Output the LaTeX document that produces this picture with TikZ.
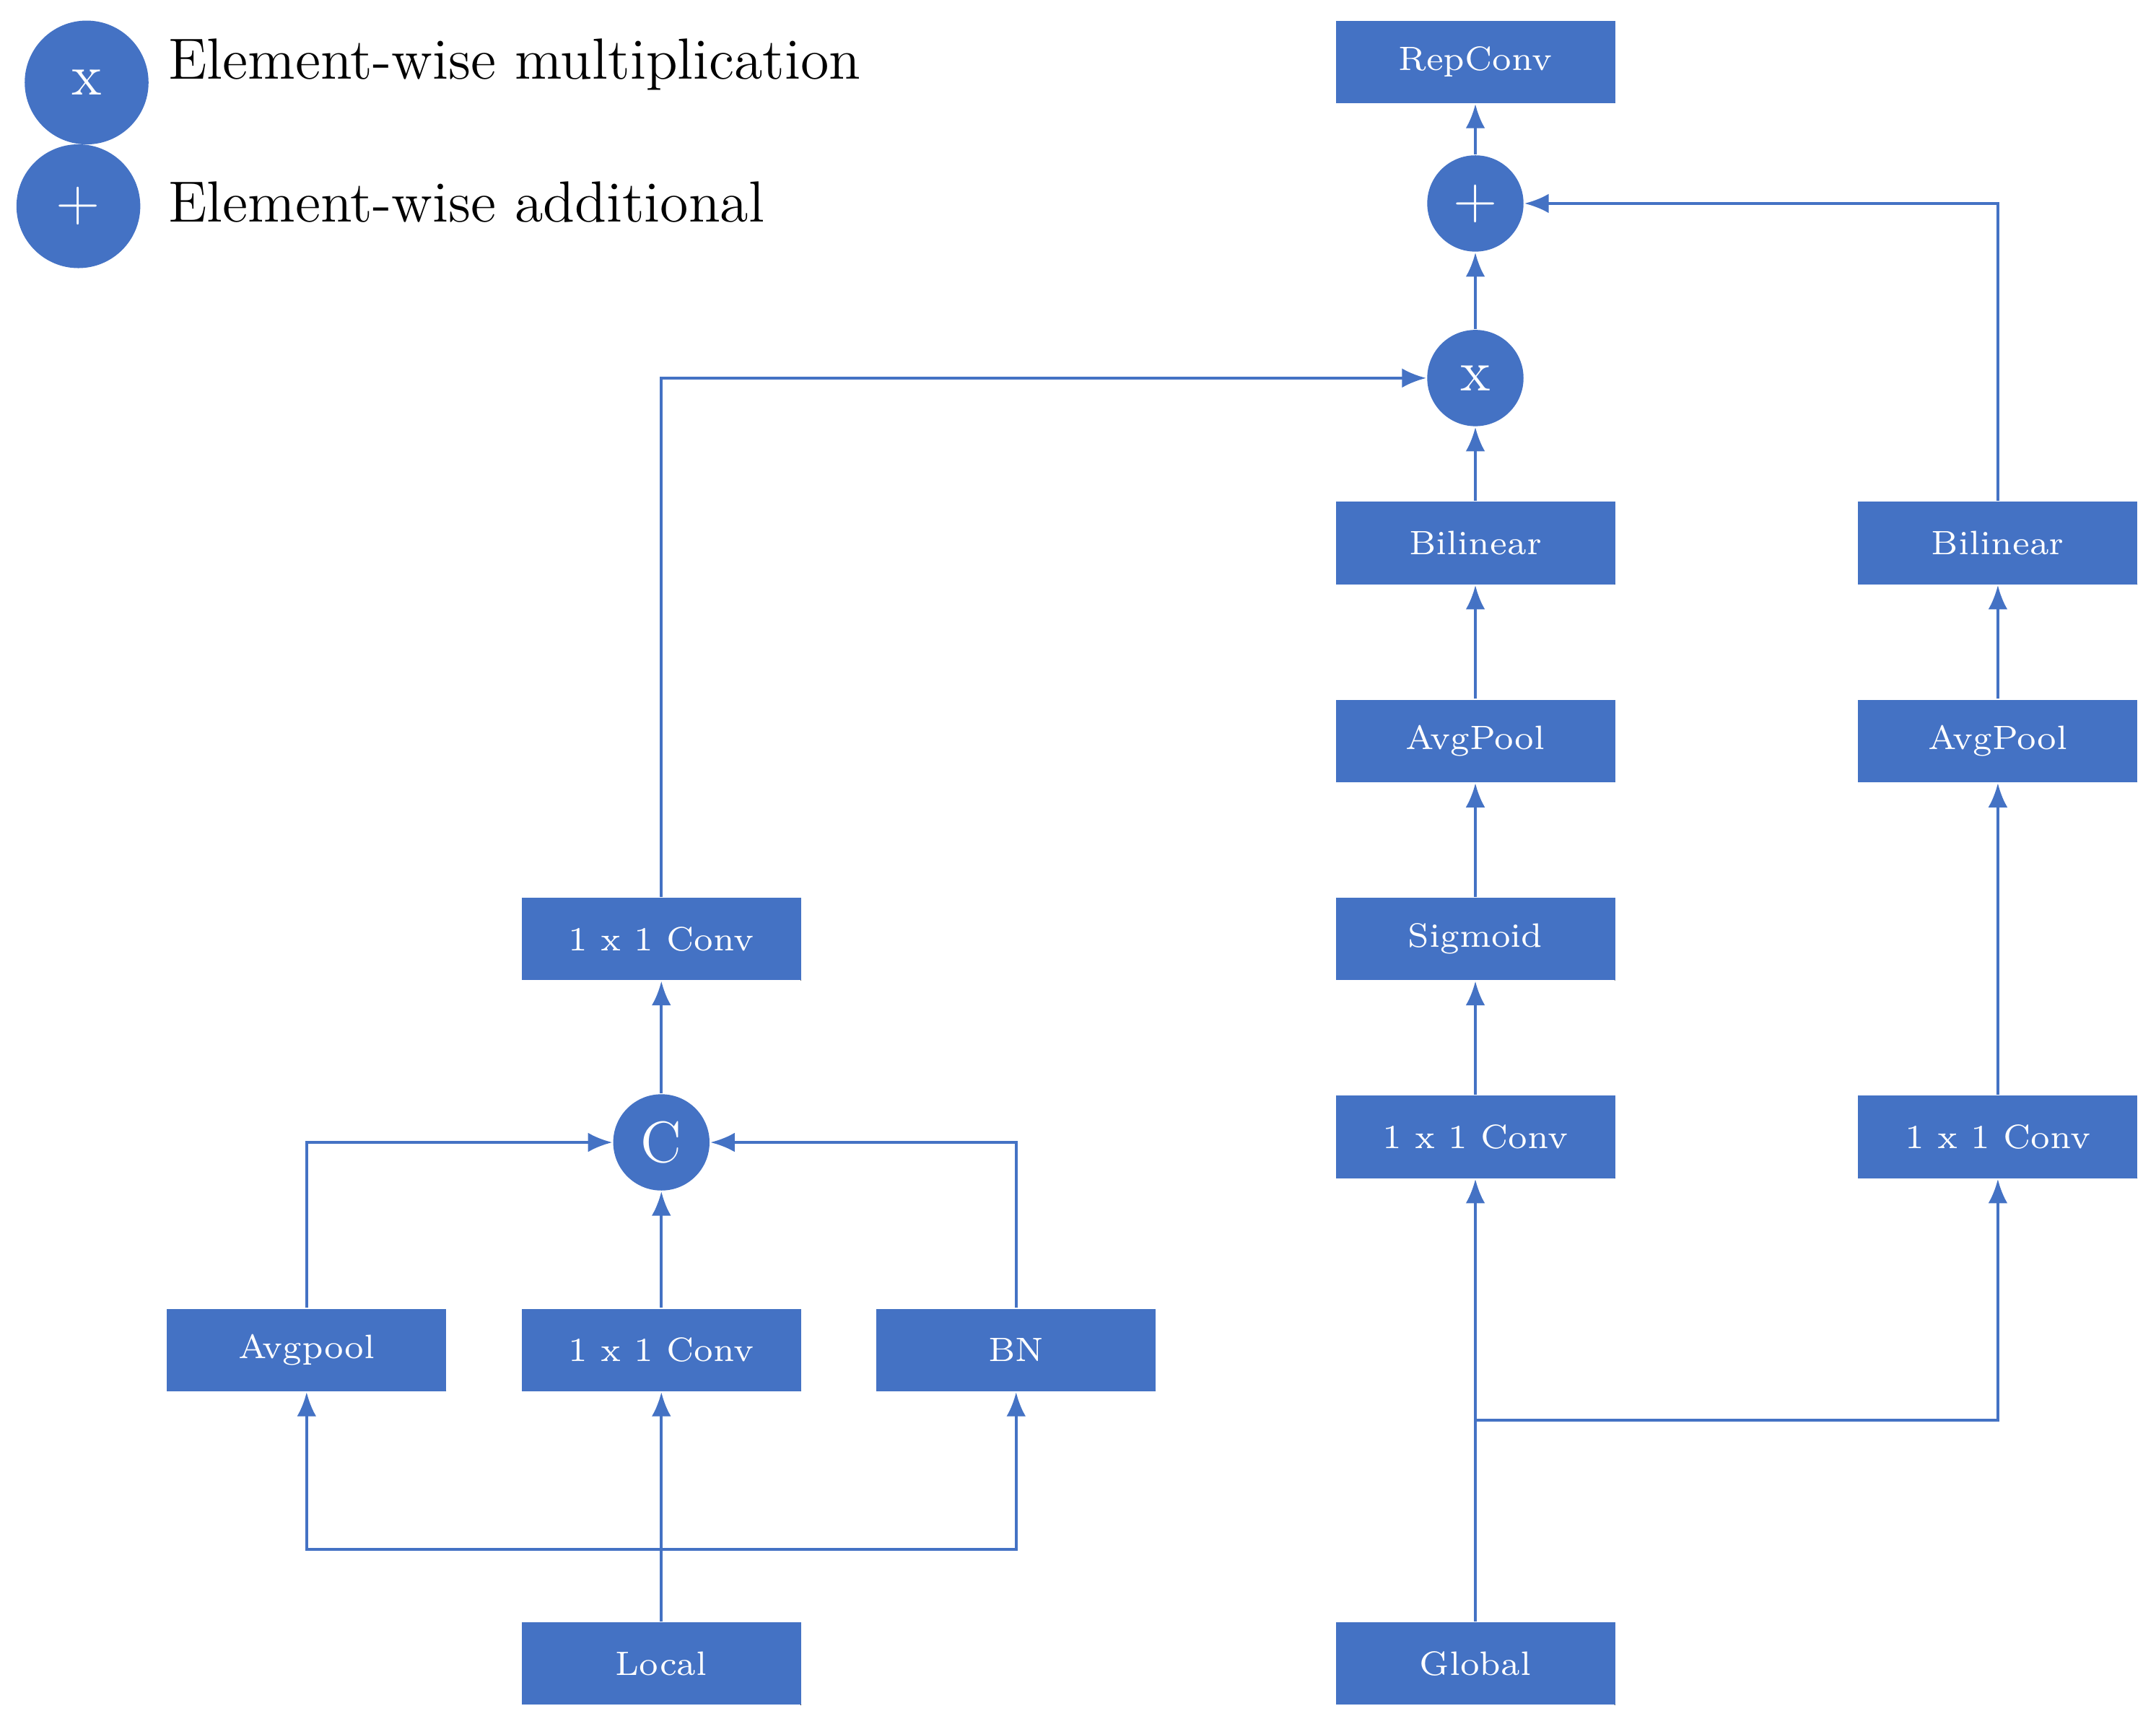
\documentclass[tikz,border=0pt]{standalone}
\usetikzlibrary{arrows.meta}
\definecolor{blk}{HTML}{4472C4}
\tikzset{
  box/.style={rectangle,fill=blk,minimum width=2.03cm,minimum height=0.6cm,inner sep=0pt,
    text=white,font=\fontsize{7}{8}\selectfont,
    path picture={\fill[black] (path picture bounding box.south east) -- ++(-0.42,0) -- ++(0.42,0.42) -- cycle;}},
  op/.style={circle,fill=blk,minimum size=0.7cm,inner sep=0pt,text=white,font=\large},
  link/.style={draw=blk,line width=0.6pt,-{Latex[length=5pt,width=4pt]}}
}
\begin{document}
\begin{tikzpicture}[x=0.01cm,y=-0.01cm]
      \useasboundingbox (0,0) rectangle (1568,1254);

      % legend
      \node[op,minimum size=0.9cm] (lm) at (63,60) {x};
      \node[op,minimum size=0.9cm] (la) at (57,150) {+};
      \node[anchor=west,font=\fontsize{12}{14}\selectfont] (lmt) at (110,47) {Element-wise multiplication};
      \node[anchor=west,font=\fontsize{12}{14}\selectfont] (lat) at (110,147) {Element-wise additional};

      \begin{scope}[every node/.style={box}]
        \node (rep)  at (1073,45)   {RepConv};
        \node (bil1) at (1073,395)  {Bilinear};
        \node (bil2) at (1453,395)  {Bilinear};
        \node (avg1) at (1073,539)  {AvgPool};
        \node (avg2) at (1453,539)  {AvgPool};
        \node (sig)  at (1073,683)  {Sigmoid};
        \node (cg1)  at (1073,827)  {1 x 1 Conv};
        \node (cg2)  at (1453,827)  {1 x 1 Conv};
        \node (glob) at (1073,1210) {Global};
        \node (loc)  at (481,1210)  {Local};
        \node (pool) at (223,982)   {Avgpool};
        \node (cl)   at (481,982)   {1 x 1 Conv};
        \node (bn)   at (739,982)   {BN};
        \node (ct)   at (481,683)   {1 x 1 Conv};
      \end{scope}

      \begin{scope}[every node/.style={op}]
        \node (add) at (1073,148) {+};
        \node (mul) at (1073,275) {x};
        \node (cat) at (481,831)  {C};
      \end{scope}

      \coordinate (lsplit) at (481,1127);
      \coordinate (gsplit) at (1073,1033);

      \begin{scope}[every path/.style={link}]
        \path (loc) -- (cl);
        \path (lsplit) -| (pool);
        \path (lsplit) -| (bn);
        \path (cl) -- (cat);
        \path (pool) |- (cat);
        \path (bn) |- (cat);
        \path (cat) -- (ct);
        \path (ct) |- (mul);
        \path (glob) -- (cg1);
        \path (gsplit) -| (cg2);
        \path (cg1) -- (sig);
        \path (sig) -- (avg1);
        \path (avg1) -- (bil1);
        \path (bil1) -- (mul);
        \path (cg2) -- (avg2);
        \path (avg2) -- (bil2);
        \path (bil2) |- (add);
        \path (mul) -- (add);
        \path (add) -- (rep);
      \end{scope}

    \end{tikzpicture}
\end{document}
